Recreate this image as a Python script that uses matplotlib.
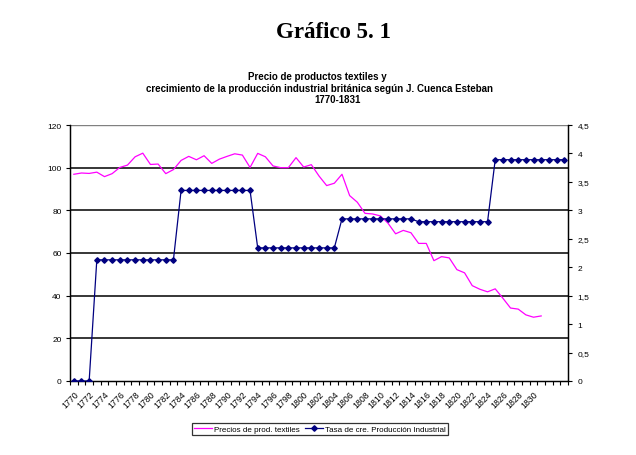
import matplotlib.pyplot as plt
from matplotlib.lines import Line2D
from matplotlib.ticker import FuncFormatter

plt.rcParams["font.family"] = ["Liberation Sans", "DejaVu Sans"]

# category axis: 1770-1831 plus three empty slots as in the original sheet
years = [str(y) for y in range(1770, 1832)] + ["", "", ""]

# Precios de prod. textiles (left axis), 1770-1831
precios = [
    96.9, 97.5, 97.3, 97.9, 95.8, 97.2, 100.1, 101.2, 105.1, 106.8,
    101.5, 101.7, 97.2, 99.1, 103.4, 105.3, 103.7, 105.6, 102.0, 104.0,
    105.3, 106.5, 105.9, 100.1, 106.7, 105.1, 100.8, 100.0, 100.0, 104.7,
    100.3, 101.4, 96.1, 91.6, 92.7, 96.9, 86.9, 83.8, 78.6, 78.3,
    77.4, 74.0, 69.0, 70.6, 69.5, 64.5, 64.5, 56.4, 58.3, 57.7,
    52.2, 50.7, 44.7, 43.0, 41.8, 43.2, 38.8, 34.2, 33.7, 31.0,
    29.9, 30.5,
]

# Tasa de cre. Produccion Industrial (right axis)
tasa = [
    0, 0, 0,
    2.13, 2.13, 2.13, 2.13, 2.13, 2.13, 2.13, 2.13, 2.13, 2.13, 2.13,
    3.35, 3.35, 3.35, 3.35, 3.35, 3.35, 3.35, 3.35, 3.35, 3.35,
    2.34, 2.34, 2.34, 2.34, 2.34, 2.34, 2.34, 2.34, 2.34, 2.34, 2.34,
    2.85, 2.85, 2.85, 2.85, 2.85, 2.85, 2.85, 2.85, 2.85, 2.85,
    2.80, 2.80, 2.80, 2.80, 2.80, 2.80, 2.80, 2.80, 2.80, 2.80,
    3.89, 3.89, 3.89, 3.89, 3.89, 3.89, 3.89, 3.89, 3.89, 3.89,
]

left_ticks = [0, 20, 40, 60, 80, 100, 120]
right_ticks = [0, 0.5, 1, 1.5, 2, 2.5, 3, 3.5, 4, 4.5]

pink = "#ff00ff"
navy = "#000080"

fig = plt.figure(figsize=(6.36, 4.56), dpi=100)
ax = fig.add_axes([70 / 636, 1 - 382 / 456, 498 / 636, 256 / 456])
ax2 = ax.twinx()

x_all = list(range(len(years)))

# gridlines at the left-axis ticks
for v in left_ticks[1:-1]:
    ax.axhline(v, color="black", lw=1.1, zorder=1)
ax.axhline(120, color="#808080", lw=1.0, zorder=1)

ax.plot(x_all[:len(precios)], precios, color=pink, lw=0.9, zorder=3)
ax2.plot(x_all[:len(tasa)], tasa, color=navy, lw=0.9, marker="D",
         markersize=2.8, zorder=3)

ax.set_xlim(-0.5, len(years) - 0.5)
ax.set_ylim(0, 120)
ax2.set_ylim(0, 4.5)
ax.set_yticks(left_ticks)
ax2.set_yticks(right_ticks)
ax2.yaxis.set_major_formatter(
    FuncFormatter(lambda v, p: ("%g" % v).replace(".", ",")))

# category labels every two years, tick marks between categories
ax.set_xticks(x_all[::2])
ax.set_xticklabels(years[::2], rotation=45, ha="right", rotation_mode="anchor",
                   fontsize=6.3)
ax.tick_params(axis="x", which="major", length=0, pad=6)
ax.set_xticks([i - 0.5 for i in range(len(years) + 1)], minor=True)
ax.tick_params(axis="x", which="minor", length=3, width=0.8, direction="out")

ax.tick_params(axis="y", labelsize=6, length=3, width=0.8, pad=3)
ax2.tick_params(axis="y", labelsize=6, length=3, width=0.8, pad=4)

for a in (ax, ax2):
    a.spines["top"].set_visible(False)
    a.spines["left"].set_linewidth(0.9)
    a.spines["right"].set_linewidth(0.9)
    a.spines["bottom"].set_linewidth(0.9)

# titles
fig.text(333 / 636, 1 - 33 / 456, "Gráfico 5. 1", family="Liberation Serif",
         fontweight="bold", fontsize=16.5, ha="center", va="center")
fig.text(317 / 636, 1 - 77 / 456, "Precio de productos textiles y",
         fontweight="bold", fontsize=7, ha="center", va="center")
fig.text(319 / 636, 1 - 89 / 456,
         "crecimiento de la producción industrial británica según J. Cuenca Esteban",
         fontweight="bold", fontsize=7, ha="center", va="center")
fig.text(338 / 636, 1 - 100 / 456, "1770-1831",
         fontweight="bold", fontsize=7, ha="center", va="center")

handles = [
    Line2D([], [], color=pink, lw=0.9),
    Line2D([], [], color=navy, lw=0.9, marker="D", markersize=2.8),
]
leg = fig.legend(handles,
                 ["Precios de prod. textiles", "Tasa de cre. Producción Industrial"],
                 loc="center", bbox_to_anchor=(320 / 636, 1 - 430 / 456),
                 ncol=2, fontsize=5.8, frameon=True, fancybox=False,
                 handlelength=2.2, handletextpad=0.3, columnspacing=0.6,
                 borderpad=0.25)
leg.get_frame().set_edgecolor("black")
leg.get_frame().set_linewidth(0.9)

fig.savefig("out.png", dpi=100)
